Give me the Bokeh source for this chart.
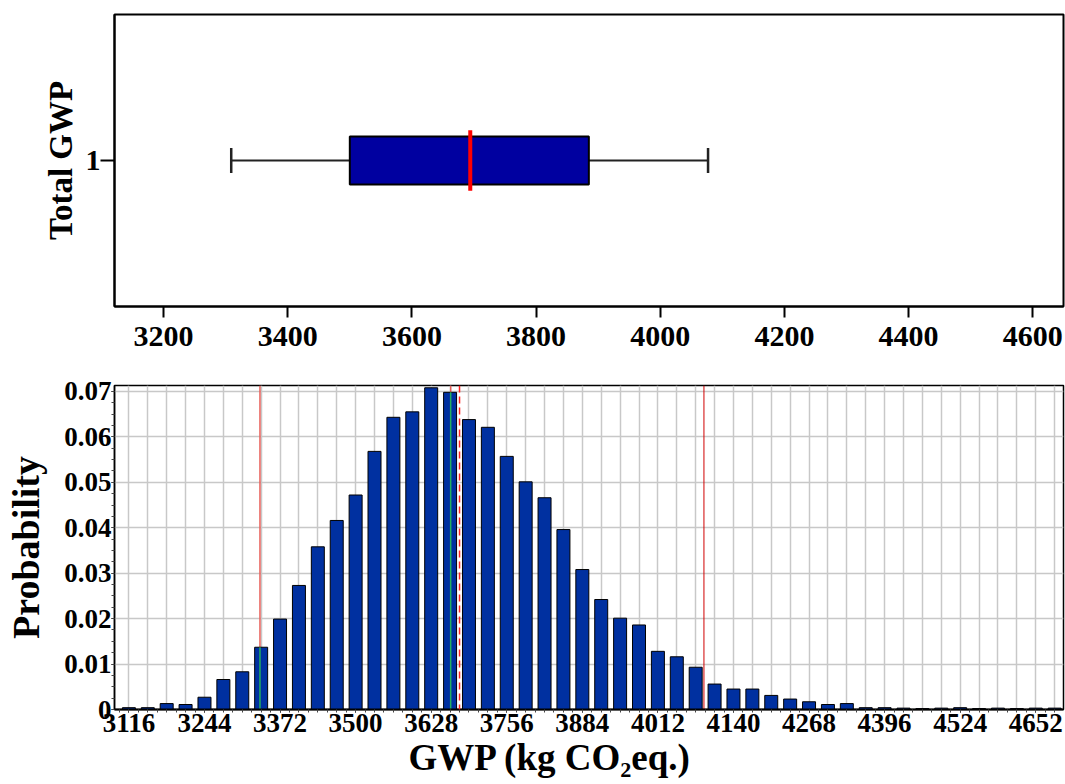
from bokeh.plotting import figure
from bokeh.layouts import column
from bokeh.models import (FixedTicker, SingleIntervalTicker, Span, Title,
                          ColumnDataSource, Range1d, PrintfTickFormatter)
from bokeh.transform import dodge
from bokeh.embed import file_html
from bokeh.resources import INLINE

# ---------------- data ----------------
box_category = [1]
whisker_low = [3309]
quartile_1 = [3500]
median_val = [3694]
quartile_3 = [3885]
whisker_high = [4077]
top_ticks = [3200, 3400, 3600, 3800, 4000, 4200, 4400, 4600]

gwp_bins = [3116, 3148, 3180, 3212, 3244, 3276, 3308, 3340, 3372, 3404,
            3436, 3468, 3500, 3532, 3564, 3596, 3628, 3660, 3692, 3724,
            3756, 3788, 3820, 3852, 3884, 3916, 3948, 3980, 4012, 4044,
            4076, 4108, 4140, 4172, 4204, 4236, 4268, 4300, 4332, 4364,
            4396, 4428, 4460, 4492, 4524, 4556, 4588, 4620, 4652, 4684]
probability = [0.0004, 0.0004, 0.0013, 0.0011, 0.0027, 0.0066, 0.0083, 0.0137, 0.0199, 0.0273,
               0.0358, 0.0416, 0.0472, 0.0568, 0.0643, 0.0655, 0.0708, 0.0698, 0.0638, 0.0621,
               0.0557, 0.0501, 0.0466, 0.0396, 0.0308, 0.0242, 0.0201, 0.0186, 0.0128, 0.0116,
               0.0093, 0.0056, 0.0045, 0.0045, 0.0031, 0.0023, 0.0017, 0.0011, 0.0013, 0.0004,
               0.0004, 0.0003, 0.0002, 0.0003, 0.0004, 0.0002, 0.0003, 0.0002, 0.0003, 0.0003]
bottom_tick_labels = [3116, 3244, 3372, 3500, 3628, 3756, 3884, 4012, 4140,
                      4268, 4396, 4524, 4652]
certainty_lines = [3338, 3661]
mean_line = [3676]
upper_line = [4090]

# ---------------- styles ----------------
FONT = "Liberation Serif"
BIN_STEP = 32
BAR_WIDTH = 22
BOX_HEIGHT = 0.165
CAP_HALF = 0.043
MEDIAN_HALF = 0.104
W = 1065

# ---------------- top: box plot ----------------
p1 = figure(width=W, height=360, output_backend="svg", toolbar_location=None,
            x_range=Range1d(3121, 4649.5), y_range=Range1d(0.5, 1.5),
            min_border_left=112, min_border_right=2, min_border_top=14,
            min_border_bottom=54)
p1.grid.visible = False
p1.outline_line_color = "black"
p1.outline_line_width = 2
p1.background_fill_color = "white"
p1.border_fill_color = "white"

src = ColumnDataSource(dict(y=box_category, low=whisker_low, q1=quartile_1,
                            med=median_val, q3=quartile_3, high=whisker_high))
p1.segment(x0="low", y0="y", x1="q1", y1="y", source=src, line_color="#222222", line_width=2)
p1.segment(x0="q3", y0="y", x1="high", y1="y", source=src, line_color="#222222", line_width=2)
p1.segment(x0="low", y0=dodge("y", -CAP_HALF), x1="low", y1=dodge("y", CAP_HALF),
           source=src, line_color="#222222", line_width=2.5)
p1.segment(x0="high", y0=dodge("y", -CAP_HALF), x1="high", y1=dodge("y", CAP_HALF),
           source=src, line_color="#222222", line_width=2.5)
p1.hbar(y="y", left="q1", right="q3", height=BOX_HEIGHT, source=src,
        fill_color="#0000A0", line_color="black", line_width=2)
p1.segment(x0="med", y0=dodge("y", -MEDIAN_HALF), x1="med", y1=dodge("y", MEDIAN_HALF),
           source=src, line_color="#FF0000", line_width=4)

p1.xaxis.ticker = FixedTicker(ticks=top_ticks)
p1.yaxis.ticker = FixedTicker(ticks=box_category)
for ax in (p1.xaxis[0], p1.yaxis[0]):
    ax.axis_line_color = "black"
    ax.axis_line_width = 2
    ax.major_tick_line_color = "black"
    ax.major_tick_line_width = 2
    ax.major_tick_in = 0
    ax.minor_tick_line_color = None
    ax.major_label_text_font = FONT
    ax.major_label_text_font_style = "bold"
    ax.major_label_text_font_size = "30px"
    ax.major_label_text_color = "black"
p1.xaxis.major_tick_out = 11
p1.xaxis.major_label_standoff = 9
p1.yaxis.major_tick_out = 14
p1.yaxis.major_label_standoff = 0
p1.yaxis.axis_label = "Total GWP"
p1.yaxis.axis_label_text_font = FONT
p1.yaxis.axis_label_text_font_style = "bold"
p1.yaxis.axis_label_text_font_size = "33px"
p1.yaxis.axis_label_text_color = "black"
p1.yaxis.axis_label_standoff = 4

# ---------------- bottom: histogram ----------------
p2 = figure(width=W, height=424, output_backend="svg", toolbar_location=None,
            x_range=Range1d(3091.6, 4699), y_range=Range1d(0, 0.0713),
            min_border_left=114, min_border_right=2, min_border_top=25,
            min_border_bottom=75)
p2.outline_line_color = "black"
p2.outline_line_width = 1.5
p2.background_fill_color = "white"
p2.border_fill_color = "white"

p2.xgrid.ticker = FixedTicker(ticks=gwp_bins)
p2.grid.grid_line_color = "#c8c8c8"
p2.grid.grid_line_width = 1.5

for v in certainty_lines:
    p2.add_layout(Span(location=v, dimension="height", line_color="#E8605A",
                       line_width=1.5, level="underlay"))
for v in upper_line:
    p2.add_layout(Span(location=v, dimension="height", line_color="#D00000",
                       line_width=1, level="underlay"))

p2.vbar(x=gwp_bins, top=probability, width=BAR_WIDTH, bottom=0,
        fill_color="#0030A0", line_color="black", line_width=1)

green_tops = [probability[min(range(len(gwp_bins)), key=lambda i: abs(gwp_bins[i] - v))]
              for v in certainty_lines]
p2.segment(x0=certainty_lines, y0=[0] * len(certainty_lines), x1=certainty_lines,
           y1=green_tops, line_color="#22B060", line_width=1.5)

for v in mean_line:
    p2.add_layout(Span(location=v, dimension="height", line_color="#FF2020",
                       line_width=1.5, line_dash="7 4"))

edges = sorted(set([b - BIN_STEP // 2 for b in gwp_bins] + gwp_bins))
p2.xaxis.ticker = FixedTicker(ticks=bottom_tick_labels, minor_ticks=edges)
p2.yaxis.ticker = SingleIntervalTicker(interval=0.01, num_minor_ticks=4)
p2.yaxis.formatter = PrintfTickFormatter(format="%.2f")
p2.yaxis.major_label_overrides = {0: "0"}

for ax in (p2.xaxis[0], p2.yaxis[0]):
    ax.axis_line_color = "black"
    ax.major_tick_line_color = "black"
    ax.minor_tick_line_color = "#444444"
    ax.major_tick_in = 0
    ax.minor_tick_in = 0
    ax.major_tick_out = 3
    ax.minor_tick_out = 3
    ax.major_label_text_font = FONT
    ax.major_label_text_font_style = "bold"
    ax.major_label_text_font_size = "27px"
    ax.major_label_text_color = "black"
p2.xaxis.axis_line_width = 2
p2.yaxis.axis_line_width = 1.5
p2.xaxis.major_label_standoff = 1
p2.yaxis.major_label_standoff = 0
p2.yaxis.axis_label = "Probability"
p2.yaxis.axis_label_text_font = FONT
p2.yaxis.axis_label_text_font_style = "bold"
p2.yaxis.axis_label_text_font_size = "38px"
p2.yaxis.axis_label_text_color = "black"
p2.yaxis.axis_label_standoff = 14

p2.add_layout(Title(text="GWP (kg CO\u2082eq.)", align="left", offset=294,
                    text_font=FONT, text_font_size="37px", text_font_style="bold",
                    text_color="black", standoff=0), "below")

layout = column(p1, p2)
open("out.html", "w").write(file_html(layout, INLINE))
